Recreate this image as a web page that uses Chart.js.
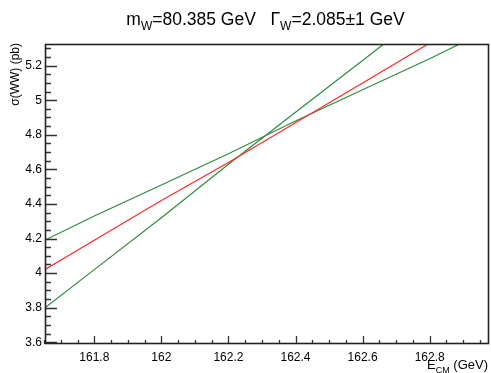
<!DOCTYPE html>
<html>
<head>
<meta charset="utf-8">
<script src="https://cdn.jsdelivr.net/npm/chart.js@4.4.1/dist/chart.umd.min.js"></script>
<style>
  body { margin: 0; background: #fff; }
  canvas { display: block; }
</style>
</head>
<body>
<canvas id="chart" width="491" height="373"></canvas>
<script>
// centre-of-mass energies (GeV) where the cross sections were read
const energies = [161.6, 161.8, 162.0, 162.2, 162.4, 162.6, 162.8, 163.0];
// sigma(WW) in pb
const sigmaCentral = [3.96, 4.19, 4.42, 4.64, 4.87, 5.10, 5.33, 5.56];
const sigmaSteep   = [3.72, 4.02, 4.32, 4.63, 4.93, 5.23, 5.53, 5.83];
const sigmaFlat    = [4.14, 4.33, 4.51, 4.69, 4.88, 5.06, 5.24, 5.43];

const xTicks = [161.8, 162, 162.2, 162.4, 162.6, 162.8];
const yTicks = [3.6, 3.8, 4, 4.2, 4.4, 4.6, 4.8, 5, 5.2];
const xRange = [161.653, 162.977];
const yRange = [3.59, 5.325];

const FONT = '"Liberation Sans", Arial, Helvetica, sans-serif';

function toPoints(ys) {
    return energies.map((e, i) => ({ x: e, y: ys[i] }));
}

// draws frame, inward ticks and the titles with subscripts
const rootStyle = {
    id: 'rootStyle',
    afterDraw(chart) {
        const ctx = chart.ctx;
        const a = chart.chartArea;
        const xs = chart.scales.x;
        const ys = chart.scales.y;
        ctx.save();

        ctx.strokeStyle = '#333';
        ctx.lineWidth = 1.3;
        // minor + major ticks on x (bottom)
        ctx.beginPath();
        for (let v = 161.65; v <= xRange[1] + 1e-9; v += 0.05) {
            const px = Math.round(xs.getPixelForValue(v)) + 0.5;
            const major = Math.abs(v * 5 - Math.round(v * 5)) < 1e-6;
            ctx.moveTo(px, a.bottom);
            ctx.lineTo(px, a.bottom - (major ? 8 : 4));
        }
        // minor + major ticks on y (left)
        for (let v = 3.6; v <= yRange[1] + 1e-9; v += 0.05) {
            const py = Math.round(ys.getPixelForValue(v)) + 0.5;
            const major = Math.abs(v * 5 - Math.round(v * 5)) < 1e-6;
            ctx.moveTo(a.left, py);
            ctx.lineTo(a.left + (major ? 12 : 6), py);
        }
        ctx.stroke();

        // frame
        ctx.strokeStyle = '#222';
        ctx.lineWidth = 1.6;
        ctx.strokeRect(a.left + 0.5, a.top + 0.5, a.right - a.left - 1, a.bottom - a.top - 1);

        ctx.fillStyle = '#000';
        ctx.textBaseline = 'alphabetic';

        // title
        const big = '17.5px ' + FONT, sub = '12px ' + FONT;
        const parts = [
            ['m', big, 0], ['W', sub, 5], ['=80.385 GeV   ', big, 0],
            ['\u0393', big, 0], ['W', sub, 5], ['=2.085\u00b11 GeV', big, 0]
        ];
        let w = 0;
        parts.forEach(p => { ctx.font = p[1]; w += ctx.measureText(p[0]).width; });
        let tx = 265.5 - w / 2;
        parts.forEach(p => {
            ctx.font = p[1];
            ctx.textAlign = 'left';
            ctx.fillText(p[0], tx, 25 + p[2]);
            tx += ctx.measureText(p[0]).width;
        });

        // x axis title, right aligned
        const xParts = [['E', '13px ' + FONT, 0], ['CM', '9px ' + FONT, 4], [' (GeV)', '13px ' + FONT, 0]];
        let xw = 0;
        xParts.forEach(p => { ctx.font = p[1]; xw += ctx.measureText(p[0]).width; });
        let ex = 488 - xw;
        xParts.forEach(p => {
            ctx.font = p[1];
            ctx.fillText(p[0], ex, 369 + p[2]);
            ex += ctx.measureText(p[0]).width;
        });

        // y axis title, rotated, aligned to top
        ctx.translate(19, 43);
        ctx.rotate(-Math.PI / 2);
        ctx.font = '12px ' + FONT;
        ctx.textAlign = 'right';
        ctx.fillText('\u03c3(WW) (pb)', 0, 0);

        ctx.restore();
    }
};

new Chart(document.getElementById('chart'), {
    type: 'line',
    data: {
        datasets: [
            { label: 'central', data: toPoints(sigmaCentral), borderColor: '#ff2a2a', borderWidth: 1.2 },
            { label: 'steep', data: toPoints(sigmaSteep), borderColor: '#2e8b3e', borderWidth: 1.2 },
            { label: 'flat', data: toPoints(sigmaFlat), borderColor: '#2e8b3e', borderWidth: 1.2 }
        ]
    },
    options: {
        responsive: false,
        animation: false,
        events: [],
        elements: { point: { radius: 0 }, line: { tension: 0 } },
        layout: { padding: { top: 44, right: 2, left: 0, bottom: 0 } },
        plugins: { legend: { display: false }, tooltip: { enabled: false }, title: { display: false } },
        scales: {
            x: {
                type: 'linear',
                min: xRange[0],
                max: xRange[1],
                grid: { display: false, drawTicks: false },
                border: { display: false },
                afterBuildTicks: s => { s.ticks = xTicks.map(v => ({ value: v })); },
                afterFit: s => { s.height = 29; },
                ticks: {
                    autoSkip: false,
                    maxRotation: 0,
                    padding: 6,
                    color: '#000',
                    font: { family: FONT, size: 12 },
                    callback: v => String(+v.toFixed(1))
                }
            },
            y: {
                type: 'linear',
                min: yRange[0],
                max: yRange[1],
                grid: { display: false, drawTicks: false },
                border: { display: false },
                afterBuildTicks: s => { s.ticks = yTicks.map(v => ({ value: v })); },
                afterFit: s => { s.width = 45; },
                ticks: {
                    padding: 3,
                    color: '#000',
                    font: { family: FONT, size: 12 },
                    callback: v => String(+v.toFixed(1))
                }
            }
        }
    },
    plugins: [rootStyle]
});
</script>
</body>
</html>
